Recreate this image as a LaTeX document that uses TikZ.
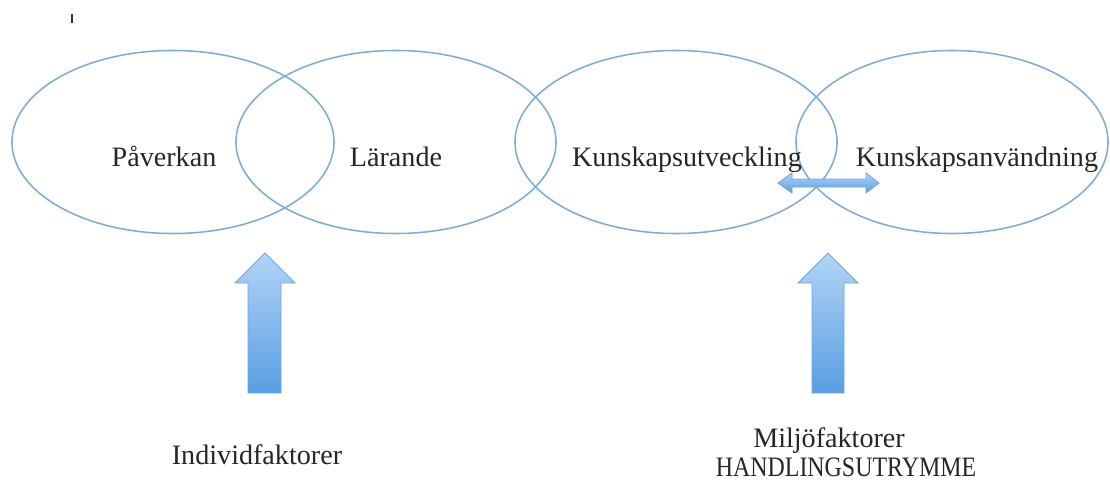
\documentclass[tikz,border=0pt]{standalone}
\usepackage{fontspec}
\setmainfont{Liberation Serif}
\usetikzlibrary{shapes.geometric}
\definecolor{ringblue}{RGB}{125,172,215}
\definecolor{arrowtop}{RGB}{178,212,246}
\definecolor{arrowbot}{RGB}{88,158,226}
\definecolor{arrowline}{RGB}{112,166,220}

\begin{document}
\begin{tikzpicture}[x=0.025cm, y=-0.025cm,
    ring/.style={draw=ringblue, line width=1.1pt, ellipse, minimum height=4.575cm},
    word/.style={anchor=base, inner sep=1pt, font=\fontsize{20}{24}\selectfont, text=black!85},
    blockarrow/.style={draw=arrowline, line width=0.6pt, top color=arrowtop, bottom color=arrowbot}]
    \useasboundingbox (0,0) rectangle (1110,481);
    % small mark top left
    \draw[black!80, line width=1.4pt] (72,14) -- (72,23);
    % The four overlapping ellipses
    \node[ring, minimum width=8.05cm] (pav) at (173,142) {};
    \node[ring, minimum width=8.0cm] (lar) at (396,142) {};
    \node[ring, minimum width=8.05cm] (kut) at (676,142) {};
    \node[ring, minimum width=7.8cm] (kan) at (952,142) {};
    % Labels in the ellipses
    \node[word] (tpav) at (164,166) {Påverkan};
    \node[word] (tlar) at (396,166) {Lärande};
    \node[word] (tkut) at (687,166) {Kunskapsutveckling};
    \node[word] (tkan) at (977,166) {Kunskapsanvändning};
    % Double arrow between the last two
    \draw[blockarrow] (778,183) -- (792,173) -- (792,179) -- (866,179) -- (866,173)
        -- (879,183) -- (866,193) -- (866,187) -- (792,187) -- (792,193) -- cycle;
    % Upward arrows
    \draw[blockarrow] (248,393) -- (248,283) -- (235,283) -- (265,253) -- (295,283)
        -- (281,283) -- (281,393) -- cycle;
    \draw[blockarrow] (812,393) -- (812,283) -- (798,283) -- (828,253) -- (858,283)
        -- (844,283) -- (844,393) -- cycle;
    % Factor labels
    \node[word] (ind) at (257,464) {Individfaktorer};
    \node[word] (mil) at (829,447) {Miljöfaktorer};
    \node[word] (han) at (846,476) {\scalebox{0.85}[1]{HANDLINGSUTRYMME}};
\end{tikzpicture}
\end{document}
